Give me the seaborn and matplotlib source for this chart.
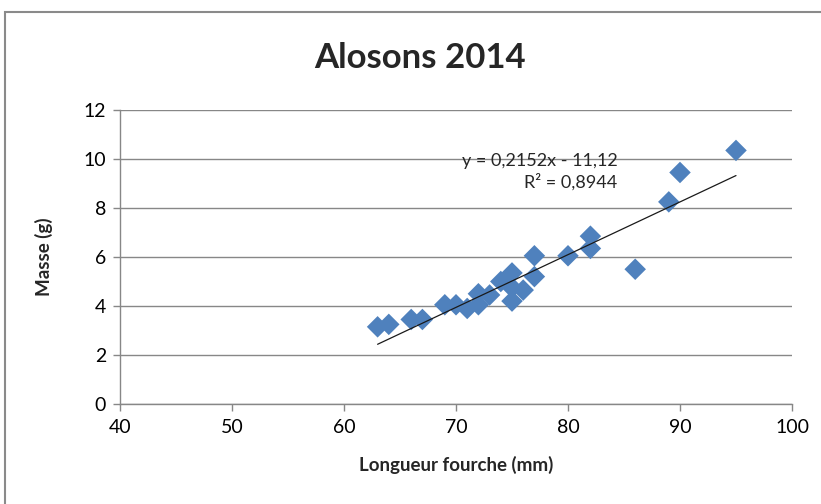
import numpy as np
import pandas as pd
import matplotlib
matplotlib.use("Agg")
import matplotlib.pyplot as plt
import seaborn as sns
from matplotlib.patches import Rectangle

# Data
longueur = [63, 64, 66, 67, 69, 70, 71, 72, 72, 73, 74, 75, 75, 75, 76, 77, 77, 80, 82, 82, 86, 89, 90, 95]
masse = [3.15, 3.25, 3.45, 3.45, 4.05, 4.05, 3.9, 4.05, 4.5, 4.45, 5.0, 5.35, 4.2, 4.75, 4.65, 5.2, 6.05, 6.05, 6.85, 6.35, 5.5, 8.25, 9.45, 10.35]
slope = 0.2152
intercept = -11.12
r2 = 0.8944
title = "Alosons 2014"
xlabel = "Longueur fourche (mm)"
ylabel = "Masse (g)"
xticks = [40, 50, 60, 70, 80, 90, 100]
yticks = [0, 2, 4, 6, 8, 10, 12]

df = pd.DataFrame({"x": longueur, "y": masse})

sns.set_theme(style="white")
plt.rcParams["font.family"] = ["Lato", "DejaVu Sans"]

W, H = 821, 504
fig = plt.figure(figsize=(W / 100, H / 100), dpi=100)
ax = fig.add_axes([120 / W, 1 - 404 / H, (792 - 120) / W, (404 - 110) / H])

grid_c = "#878787"
sns.scatterplot(data=df, x="x", y="y", marker="D", s=120, color="#4F81BD",
                edgecolor="none", ax=ax, zorder=3, legend=False)

xs = np.array([min(longueur), max(longueur)])
ax.plot(xs, slope * xs + intercept, color="#1a1a1a", lw=0.9, zorder=4)

ax.set_xlim(40, 100)
ax.set_ylim(0, 12)
ax.set_xticks(xticks)
ax.set_yticks(yticks)
ax.tick_params(axis="both", labelsize=14, colors="#000000", length=5, width=1,
               color=grid_c, direction="out", pad=5)
ax.tick_params(axis="x", bottom=True, pad=6)
ax.tick_params(axis="y", left=True)
for lab in ax.get_xticklabels() + ax.get_yticklabels():
    lab.set_color("#000000")
ax.yaxis.grid(True, color=grid_c, lw=1)
ax.xaxis.grid(False)
for side in ["top", "right"]:
    ax.spines[side].set_visible(False)
for side in ["left", "bottom"]:
    ax.spines[side].set_color(grid_c)
    ax.spines[side].set_linewidth(1)

ax.set_xlabel(xlabel, fontsize=13.5, fontweight="bold", labelpad=14)
ax.set_ylabel(ylabel, fontsize=13.5, fontweight="bold", labelpad=22)

eq = "y = {:.4f}x - {:.2f}\nR² = {:.4f}".format(slope, -intercept, r2).replace(".", ",")
ax.text(84.4, 10.25, eq, ha="right", va="top", fontsize=13, multialignment="right",
        linespacing=1.3, zorder=5)

fig.text(420 / W, 1 - 58 / H, title, ha="center", va="center", fontsize=25, fontweight="bold")

fig.patches.append(Rectangle((5 / W, -0.1), 1.2, 1 - 12 / H + 0.1, transform=fig.transFigure,
                             fill=False, edgecolor="#8a8a8a", lw=1.5))

fig.savefig("out.png", dpi=100)
